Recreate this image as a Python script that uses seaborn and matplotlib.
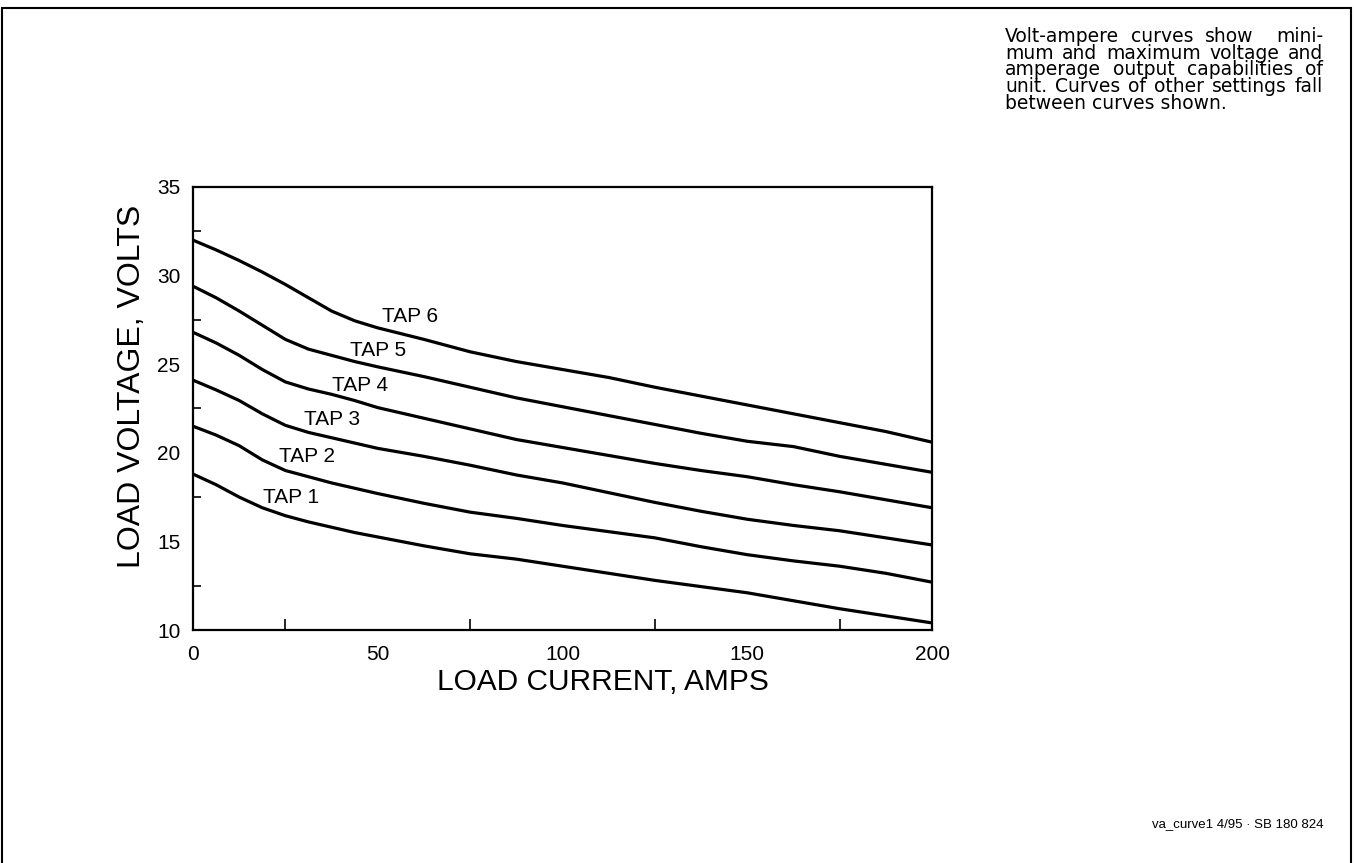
import matplotlib
matplotlib.use("Agg")
import matplotlib.pyplot as plt
from matplotlib.patches import Rectangle
from matplotlib.ticker import MultipleLocator
import seaborn as sns
import pandas as pd

# ---------------- data ----------------
load_current = [0, 6.25, 12.5, 18.75, 25, 31.25, 37.5, 43.75, 50, 62.5, 75, 87.5,
                100, 112.5, 125, 137.5, 150, 162.5, 175, 187.5, 200]
tap1 = [18.8, 18.2, 17.5, 16.9, 16.45, 16.1, 15.8, 15.5, 15.25, 14.75, 14.3, 14.0,
        13.6, 13.2, 12.8, 12.45, 12.1, 11.65, 11.2, 10.8, 10.4]
tap2 = [21.5, 21.0, 20.4, 19.6, 19.0, 18.65, 18.3, 18.0, 17.7, 17.15, 16.65, 16.3,
        15.9, 15.55, 15.2, 14.7, 14.25, 13.9, 13.6, 13.2, 12.7]
tap3 = [24.1, 23.55, 22.95, 22.2, 21.55, 21.15, 20.85, 20.55, 20.25, 19.8, 19.3, 18.75,
        18.3, 17.75, 17.2, 16.7, 16.25, 15.9, 15.6, 15.2, 14.8]
tap4 = [26.8, 26.2, 25.5, 24.7, 24.0, 23.6, 23.3, 22.95, 22.55, 21.95, 21.35, 20.75,
        20.3, 19.85, 19.4, 19.0, 18.65, 18.2, 17.8, 17.35, 16.9]
tap5 = [29.4, 28.75, 28.0, 27.2, 26.4, 25.85, 25.5, 25.15, 24.85, 24.3, 23.7, 23.1,
        22.6, 22.1, 21.6, 21.1, 20.65, 20.35, 19.8, 19.35, 18.9]
tap6 = [32.0, 31.45, 30.85, 30.2, 29.5, 28.75, 28.0, 27.45, 27.05, 26.4, 25.7, 25.15,
        24.7, 24.25, 23.7, 23.2, 22.7, 22.2, 21.7, 21.2, 20.6]
tap_names = ["TAP 1", "TAP 2", "TAP 3", "TAP 4", "TAP 5", "TAP 6"]
label_x = [26.5, 30.8, 37.6, 45.2, 50.0, 58.7]
label_y = [17.5, 19.8, 21.9, 23.8, 25.8, 27.7]
x_ticks = [0, 50, 100, 150, 200]
y_ticks = [10, 15, 20, 25, 30, 35]
x_label = "LOAD CURRENT, AMPS"
y_label = "LOAD VOLTAGE, VOLTS"
note_lines = ["Volt-ampere curves show  mini-",
              "mum and maximum voltage and",
              "amperage output capabilities of",
              "unit. Curves of other settings fall",
              "between curves shown."]
footer = "va_curve1 4/95 \u00b7 SB 180 824"

# ---------------- style ----------------
sns.set_theme(style="white")
plt.rcParams['font.family'] = ['Liberation Sans', 'DejaVu Sans']
plt.rcParams['text.color'] = 'black'
plt.rcParams['axes.labelcolor'] = 'black'
plt.rcParams['xtick.color'] = 'black'
plt.rcParams['ytick.color'] = 'black'

W, H = 1354, 863
fig = plt.figure(figsize=(W / 100, H / 100), dpi=100)
fig.patch.set_facecolor('white')

ax_l, ax_r, ax_t, ax_b = 193, 932, 187, 630
ax = fig.add_axes([ax_l / W, 1 - ax_b / H, (ax_r - ax_l) / W, (ax_b - ax_t) / H])

series = [tap1, tap2, tap3, tap4, tap5, tap6]
frames = []
for name, vals in zip(tap_names, series):
    frames.append(pd.DataFrame({"current": load_current, "voltage": vals, "tap": name}))
df = pd.concat(frames, ignore_index=True)

sns.lineplot(data=df, x="current", y="voltage", hue="tap",
             palette=["black"] * len(tap_names), legend=False, ax=ax,
             linewidth=2.3, sort=False)
for ln in ax.get_lines():
    ln.set_solid_joinstyle("round")
    ln.set_solid_capstyle("round")

for name, lx, ly in zip(tap_names, label_x, label_y):
    ax.text(lx, ly, name, ha="center", va="center", fontsize=15, color="black")

ax.set_xlim(0, 200)
ax.set_ylim(10, 35)
ax.set_xticks(x_ticks)
ax.set_yticks(y_ticks)
ax.xaxis.set_minor_locator(MultipleLocator(25))
ax.yaxis.set_minor_locator(MultipleLocator(2.5))
ax.tick_params(axis="both", which="major", direction="in", labelsize=15,
               colors="black", width=1.2)
ax.tick_params(axis="x", which="major", length=14, pad=11)
ax.tick_params(axis="y", which="major", length=11, pad=9)
ax.tick_params(axis="x", which="minor", direction="in", length=8, width=1.2, bottom=True)
ax.tick_params(axis="y", which="minor", direction="in", length=6, width=1.2, left=True)
ax.tick_params(top=False, right=False, which="both")
for sp in ax.spines.values():
    sp.set_visible(True)
    sp.set_color("black")
    sp.set_linewidth(1.6)

ax.set_xlabel(x_label, fontsize=21.5)
ax.set_ylabel(y_label, fontsize=23)
ax.xaxis.label.set_va("center")
ax.yaxis.label.set_va("center")
ax.xaxis.set_label_coords((603 - ax_l) / (ax_r - ax_l), (ax_b - 682) / (ax_b - ax_t))
ax.yaxis.set_label_coords((132 - ax_l) / (ax_r - ax_l), (ax_b - 386) / (ax_b - ax_t))

# page frame
fig.patches.append(Rectangle((2 / W, -0.02), (1351 - 2) / W, 1.02 - 8 / H,
                             transform=fig.transFigure, fill=False,
                             edgecolor="black", linewidth=1.5))

# justified note text (a double space counts as a double-weight gap)
renderer = fig.canvas.get_renderer()
left_px, right_px = 1005, 1323
baselines = [42, 58.7, 75.3, 92, 108.7]
note_size = 13.5
note_family = ['DejaVu Sans']
for i, (line, base) in enumerate(zip(note_lines, baselines)):
    yfig = 1 - base / H
    if i == len(note_lines) - 1:
        fig.text(left_px / W, yfig, line, fontsize=note_size, family=note_family,
                 ha="left", va="baseline")
        continue
    parts = line.split(" ")
    words, weights = [], []
    pending = 0
    for p in parts:
        if p == "":
            pending += 1
            continue
        if words:
            weights.append(1 + pending)
        pending = 0
        words.append(p)
    temps = [fig.text(0, 0, w, fontsize=note_size, family=note_family) for w in words]
    widths = [t.get_window_extent(renderer).width for t in temps]
    for t in temps:
        t.remove()
    unit = (right_px - left_px - sum(widths)) / sum(weights)
    x = left_px
    for k, (w, wd) in enumerate(zip(words, widths)):
        fig.text(x / W, yfig, w, fontsize=note_size, family=note_family,
                 ha="left", va="baseline")
        if k < len(weights):
            x += wd + unit * weights[k]

fig.text(1323 / W, 1 - 824 / H, footer, fontsize=9.5, ha="right", va="center")

fig.savefig("out.png", dpi=100, facecolor="white")
